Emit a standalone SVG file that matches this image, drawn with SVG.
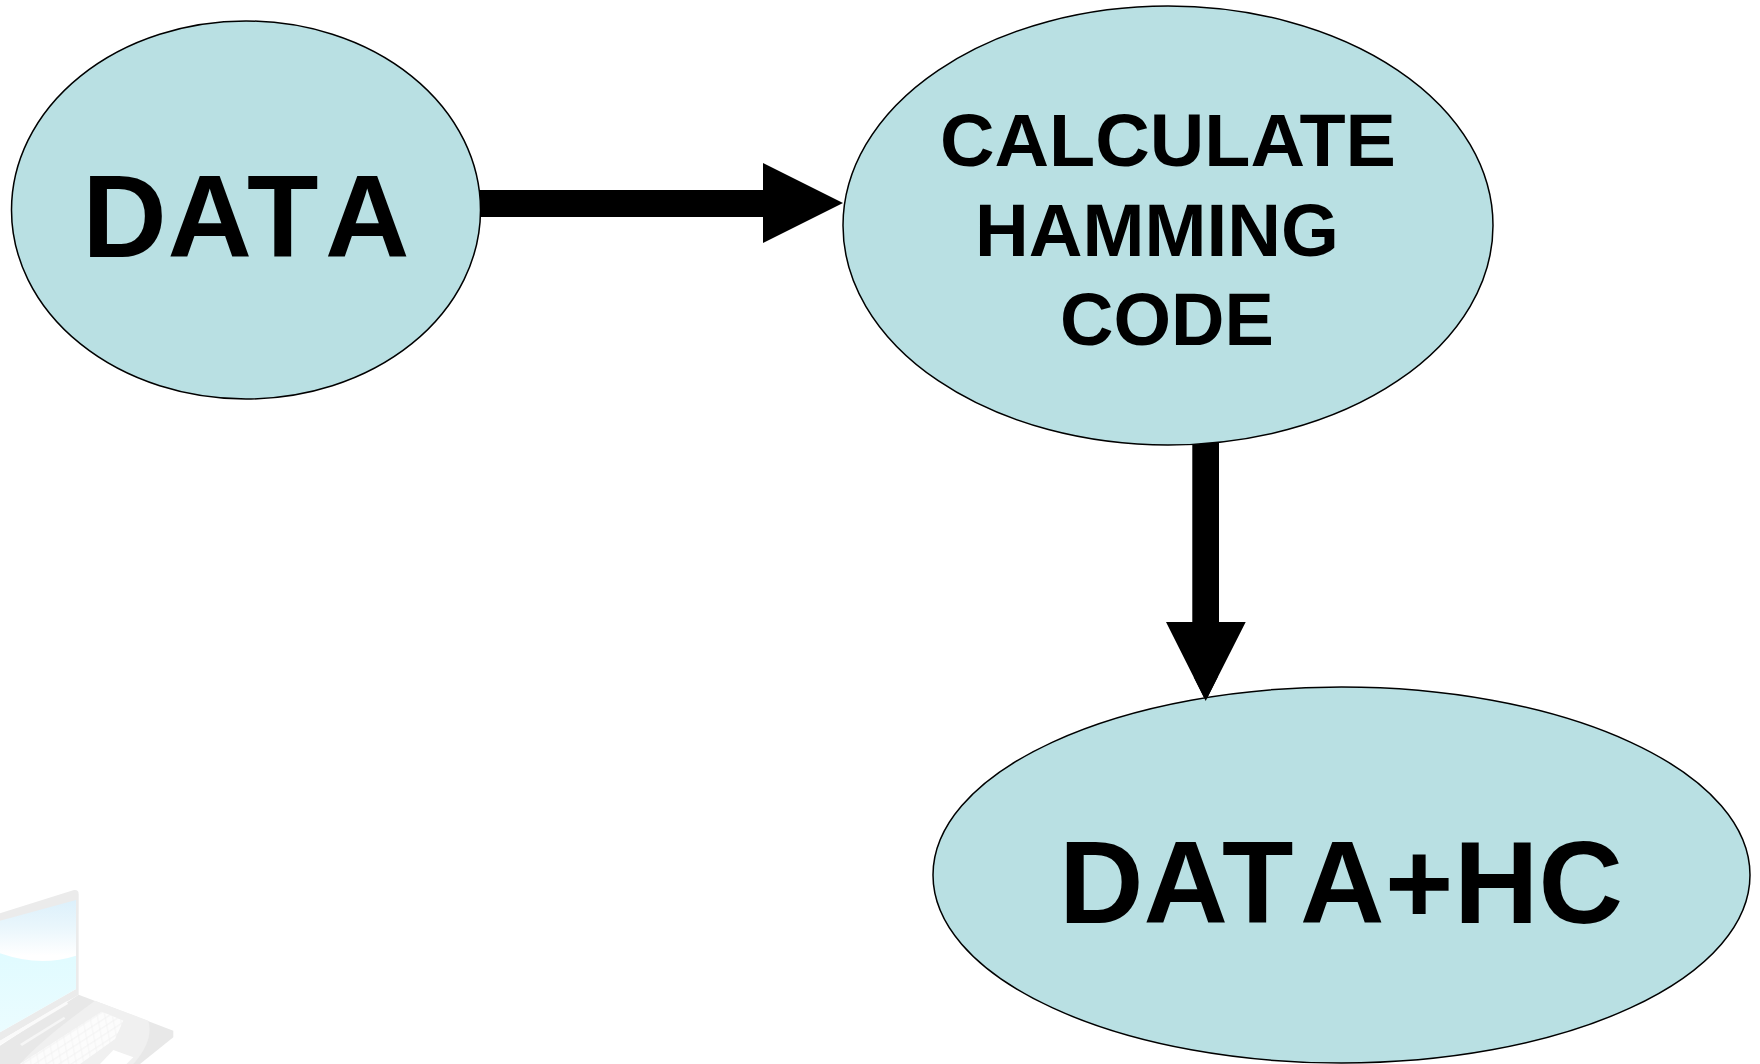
<svg xmlns="http://www.w3.org/2000/svg" width="1760" height="1064" viewBox="0 0 1760 1064">
<style>
.node{fill:#b9e0e3;stroke:#000;stroke-width:1.5}
.conn{fill:#000;stroke:none}
text{font-family:"Liberation Sans",Arial,sans-serif;font-weight:700;fill:#000}
.big{font-size:117px}
.mid{font-size:74px}
</style>
<defs>
<linearGradient id="sky" x1="0" y1="0" x2="0" y2="1"><stop offset="0" stop-color="#dcf0fb"/><stop offset="0.2" stop-color="#e9f6fc"/><stop offset="0.42" stop-color="#ffffff"/></linearGradient>
<linearGradient id="sea" x1="0" y1="0" x2="0" y2="1"><stop offset="0" stop-color="#e0fbff"/><stop offset="1" stop-color="#ebfcff"/></linearGradient>
<pattern id="keys" width="24" height="20" patternUnits="userSpaceOnUse" patternTransform="rotate(-33) skewX(-22)"><rect x="1" y="1" width="21" height="17" rx="3" fill="#fcfcfc"/></pattern>
</defs>
<g id="laptop" transform="translate(0,864) scale(0.3333)">
<path d="M0 148L222 78Q236 76 236 90L236 392L0 530Z" fill="#ebebeb"/>
<path d="M0 170L228 108L228 375L0 505Z" fill="url(#sky)"/>
<path d="M0 268Q120 310 228 275L228 375L0 505Z" fill="url(#sea)"/>
<path d="M236 392L520 500L520 520L420 600L0 600L0 545Z" fill="#e8e8e8"/>
<path d="M0 530L200 412L204 420L0 542Z" fill="#fafafa"/>
<path d="M60 540L192 458L196 464L66 546Z" fill="#f6f6f6"/>
<path d="M285 410L445 470Q462 530 400 600L60 600Q120 530 285 410Z" fill="#f0f0f0"/>
<path d="M305 443L370 470L345 525L240 600L60 600Z" fill="#f4f4f4"/>
<path d="M305 443L370 470L345 525L240 600L60 600Z" fill="url(#keys)"/>
<path d="M340 558L400 580L380 600L300 600Z" fill="#ffffff"/>
</g>
<g id="connectors">
<path id="data-to-calc" class="conn" d="M480 190H763V163L843 203L763 243V217H480Z"/>
<path id="calc-to-datahc" class="conn" d="M1192.300 440H1219V622H1245.700L1205.700 701L1166 622H1192.300Z"/>
</g>
<g id="node-data">
<ellipse class="node" cx="246" cy="210" rx="234.500" ry="189"/>
<text class="big" x="82.200 167.500 247 325" y="257">DATA</text>
</g>
<g id="node-calculate">
<ellipse class="node" cx="1168" cy="225.500" rx="325" ry="219.500"/>
<text class="mid" x="940" y="166" textLength="456" lengthAdjust="spacingAndGlyphs">CALCULATE</text>
<text class="mid" x="975" y="256" textLength="364" lengthAdjust="spacingAndGlyphs">HAMMING</text>
<text class="mid" x="1060" y="345">CODE</text>
</g>
<g id="node-datahc">
<ellipse class="node" cx="1341.500" cy="875" rx="408.500" ry="188"/>
<text class="big" x="1059 1143.500 1222 1300 1385 1454 1538.600" y="923">DATA+HC</text>
</g>
<path id="arrow-tip-over-node" class="conn" d="M1193.700 677H1217.700L1205.700 701Z"/>
</svg>
